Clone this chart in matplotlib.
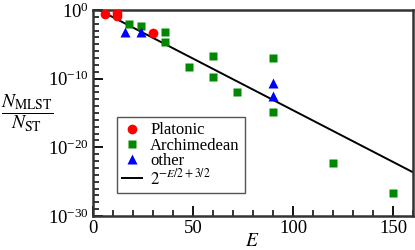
import numpy as np
import matplotlib
matplotlib.use("Agg")
import matplotlib.pyplot as plt
from matplotlib.ticker import FixedLocator, MultipleLocator, NullFormatter

plt.rcParams["font.family"] = ["Liberation Serif", "DejaVu Serif"]
plt.rcParams["mathtext.fontset"] = "stix"

# values (E, log10 of N_MLST/N_ST)
plat_E = [6, 12, 12, 30]
plat_log = [-0.6, -0.4, -0.9, -3.3]

arch_E = [18, 24, 36, 36, 48, 60, 60, 72, 90, 90, 120, 150]
arch_log = [-2.0, -2.3, -3.2, -4.6, -8.3, -6.7, -9.8, -12.0, -7.0, -14.9, -22.3, -26.6]

other_E = [16, 24, 90, 90]
other_log = [-3.2, -3.2, -10.6, -12.5]

fit_E = np.array([0, 160])

fig = plt.figure(figsize=(4.15, 2.5), dpi=100)
ax = fig.add_axes([93 / 415, 34 / 250, 320 / 415, 206 / 250])

ax.plot(fit_E, 2.0 ** (-fit_E / 2 + 1.5), color="black", lw=1.4,
        label=r"$2^{-E/2+3/2}$", zorder=2)
ax.plot(plat_E, 10.0 ** np.array(plat_log), "o", color="#ff0000", ms=7,
        mec="none", label="Platonic", zorder=3)
ax.plot(arch_E, 10.0 ** np.array(arch_log), "s", color="#008800", ms=5.5,
        mec="none", label="Archimedean", zorder=3)
ax.plot(other_E, 10.0 ** np.array(other_log), "^", color="#0000ff", ms=7.5,
        mec="none", label="other", zorder=3)

ax.set_yscale("log")
ax.set_xlim(0, 160)
ax.set_ylim(1e-30, 1e0)
ax.yaxis.set_major_locator(FixedLocator([1e-30, 1e-20, 1e-10, 1e0]))
ax.yaxis.set_minor_locator(FixedLocator([10.0 ** k for k in range(-30, 1)]))
ax.yaxis.set_minor_formatter(NullFormatter())
ax.xaxis.set_major_locator(MultipleLocator(50))
ax.xaxis.set_minor_locator(MultipleLocator(10))

ax.tick_params(which="both", direction="in", top=False, right=False,
               labelsize=13.5, color="black")
ax.tick_params(which="major", length=7, width=1.3, pad=3)
ax.tick_params(which="minor", length=4, width=1.1)
for s in ax.spines.values():
    s.set_linewidth(1.8)
    s.set_color("#333333")

ax.set_xlabel(r"$E$", fontsize=14, va="baseline")
ax.xaxis.set_label_coords(0.497, -0.148)
ax.set_ylabel(r"$\dfrac{N_{\rm MLST}}{N_{\rm ST}}$", fontsize=14, rotation=0,
              va="center", ha="center")
ax.yaxis.set_label_coords(-0.205, 0.5)

h, l = ax.get_legend_handles_labels()
order = [1, 2, 3, 0]
leg = ax.legend([h[i] for i in order], [l[i] for i in order],
                loc="lower left", bbox_to_anchor=(0.075, 0.112), fontsize=12,
                frameon=True, fancybox=False, framealpha=1, edgecolor="#555555",
                handlelength=1.2, handletextpad=0.5, borderpad=0.3,
                labelspacing=-0.05, borderaxespad=0)
leg.get_frame().set_linewidth(1.0)

fig.savefig("out.png", dpi=100)
